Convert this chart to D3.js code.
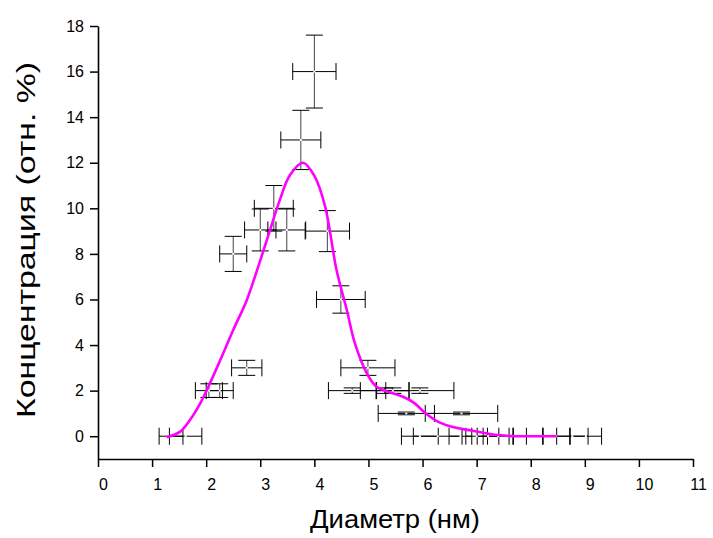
<!DOCTYPE html>
<html>
<head>
<meta charset="utf-8">
<script src="https://cdn.jsdelivr.net/npm/d3@7"></script>
<style>
  html, body { margin: 0; padding: 0; background: #fff; }
  svg { display: block; }
  text { font-family: "Liberation Sans", Arial, Helvetica, sans-serif; fill: #000; }
</style>
</head>
<body>
<svg id="chart" width="713" height="538"></svg>
<script>
// ---- data ----
const pointX = [4.0, 3.75, 3.25, 3.0, 3.49, 4.24, 2.5, 2.75, 2.05, 2.25, 4.49, 4.99,
                4.7, 5.3, 5.45, 5.95, 5.7, 6.72, 1.35, 1.62,
                5.95, 6.28, 6.70, 7.0, 7.21, 7.40, 7.76, 7.95, 8.47, 8.77, 9.02];
const pointY = [16, 13, 10, 9.05, 9.05, 9.0, 8.0, 3.0, 2.0, 2.0, 6.0, 3.0,
                2.0, 2.0, 2.0, 2.0, 1.0, 1.0, 0, 0,
                0, 0, 0, 0, 0, 0, 0, 0, 0, 0, 0];
const errX   = [0.40, 0.37, 0.36, 0.29, 0.35, 0.41, 0.25, 0.28, 0.25, 0.25, 0.45, 0.50,
                0.44, 0.45, 0.30, 0.63, 0.52, 0.67, 0.22, 0.30,
                0.34, 0.45, 0.21, 0.20, 0.20, 0.28, 0.16, 0.28, 0.25, 0.29, 0.29];
const errY   = [1.6, 1.3, 1.0, 0.92, 0.92, 0.9, 0.77, 0.33, 0.3, 0.3, 0.6, 0.33,
                0.12, 0.12, 0.12, 0.12, 0.06, 0.06, 0, 0,
                0, 0, 0, 0, 0, 0, 0, 0, 0, 0, 0];

const curveX = [1.27, 1.52, 1.70, 1.89, 2.04, 2.26, 2.50, 2.75, 2.97, 3.18, 3.36, 3.55, 3.79,
                4.01, 4.20, 4.41, 4.60, 4.75, 4.97, 5.15, 5.40, 5.65, 5.85, 6.05, 6.30, 6.60, 6.90, 7.40, 7.70, 8.0, 8.48];
const curveY = [-0.05, 0.2, 0.71, 1.44, 2.17, 3.34, 4.66, 5.97, 7.5, 9.04, 10.36, 11.46, 12.0,
                11.38, 10.07, 7.29, 5.54, 4.07, 2.76, 2.17, 1.92, 1.72, 1.45, 1.02, 0.62, 0.38, 0.25, 0.05, 0.0, 0.0, 0.0];

const xTickValues = [0, 1, 2, 3, 4, 5, 6, 7, 8, 9, 10, 11];
const yTickValues = [0, 2, 4, 6, 8, 10, 12, 14, 16, 18];
const xLabel = "Диаметр (нм)";
const yLabel = "Концентрация (отн. %)";

// ---- layout ----
const svg = d3.select("#chart");
const x = d3.scaleLinear().domain([0, 11]).range([98, 693]);
const y = d3.scaleLinear().domain([-1, 18]).range([459, 26]);

// axes
const xMinor = d3.range(0.5, 11, 1);
const yMinor = d3.range(-1, 18, 2);

const gx = svg.append("g").attr("transform", `translate(0,${y(-1)})`);
gx.call(d3.axisBottom(x).tickValues(xMinor).tickSize(5).tickSizeOuter(0).tickFormat(""));
gx.call(d3.axisBottom(x).tickValues(xTickValues).tickSize(8).tickSizeOuter(0).tickPadding(12).tickFormat(d3.format("d")));
gx.selectAll(".domain").attr("stroke", "#000").attr("stroke-width", 1.6);
gx.selectAll(".tick line").attr("stroke", "#000").attr("stroke-width", 1.5);
gx.selectAll(".tick text").attr("font-size", 16).attr("dx", 5)
  .style("font-family", "'Liberation Sans', Arial, sans-serif");

const gy = svg.append("g").attr("transform", `translate(${x(0)},0)`);
gy.call(d3.axisLeft(y).tickValues(yMinor).tickSize(5).tickSizeOuter(0).tickFormat(""));
gy.call(d3.axisLeft(y).tickValues(yTickValues).tickSize(8).tickSizeOuter(0).tickPadding(6).tickFormat(d3.format("d")));
gy.selectAll(".domain").attr("stroke", "#000").attr("stroke-width", 1.6);
gy.selectAll(".tick line").attr("stroke", "#000").attr("stroke-width", 1.5);
gy.selectAll(".tick text").attr("font-size", 16)
  .style("font-family", "'Liberation Sans', Arial, sans-serif");

// axis titles
svg.append("text")
  .attr("x", 395).attr("y", 528)
  .attr("text-anchor", "middle")
  .attr("font-size", 26)
  .attr("textLength", 170)
  .attr("lengthAdjust", "spacingAndGlyphs")
  .text(xLabel);
svg.append("text")
  .attr("transform", "translate(35,240) rotate(-90)")
  .attr("text-anchor", "middle")
  .attr("font-size", 26)
  .attr("textLength", 356)
  .attr("lengthAdjust", "spacingAndGlyphs")
  .text(yLabel);

// error bars
const cap = 8.5;
const eb = svg.append("g").attr("stroke", "#000").attr("stroke-width", 1).attr("fill", "none");
pointX.forEach((px, i) => {
  const cx = x(px), cy = y(pointY[i]);
  const x0 = x(px - errX[i]), x1 = x(px + errX[i]);
  eb.append("line").attr("x1", x0).attr("x2", x1).attr("y1", cy).attr("y2", cy);
  eb.append("line").attr("x1", x0).attr("x2", x0).attr("y1", cy - cap).attr("y2", cy + cap);
  eb.append("line").attr("x1", x1).attr("x2", x1).attr("y1", cy - cap).attr("y2", cy + cap);
  if (errY[i] > 0) {
    const y0 = y(pointY[i] - errY[i]), y1 = y(pointY[i] + errY[i]);
    eb.append("line").attr("x1", cx).attr("x2", cx).attr("y1", y0).attr("y2", y1).attr("stroke", "#444");
    eb.append("line").attr("x1", cx - cap).attr("x2", cx + cap).attr("y1", y0).attr("y2", y0);
    eb.append("line").attr("x1", cx - cap).attr("x2", cx + cap).attr("y1", y1).attr("y2", y1);
  }
});
// small white centre markers
svg.append("g").selectAll("rect").data(pointX).join("rect")
  .attr("x", (d) => x(d) - 1).attr("y", (d, i) => y(pointY[i]) - 1)
  .attr("width", 2).attr("height", 2).attr("fill", "#fff");

// fitted curve
const curvePts = curveX.map((d, i) => [d, curveY[i]]);
svg.append("path")
  .datum(curvePts)
  .attr("fill", "none")
  .attr("stroke", "#ff00ff")
  .attr("stroke-width", 2.6)
  .attr("d", d3.line().x(d => x(d[0])).y(d => y(d[1])).curve(d3.curveCatmullRom.alpha(0.5)));
</script>
</body>
</html>
